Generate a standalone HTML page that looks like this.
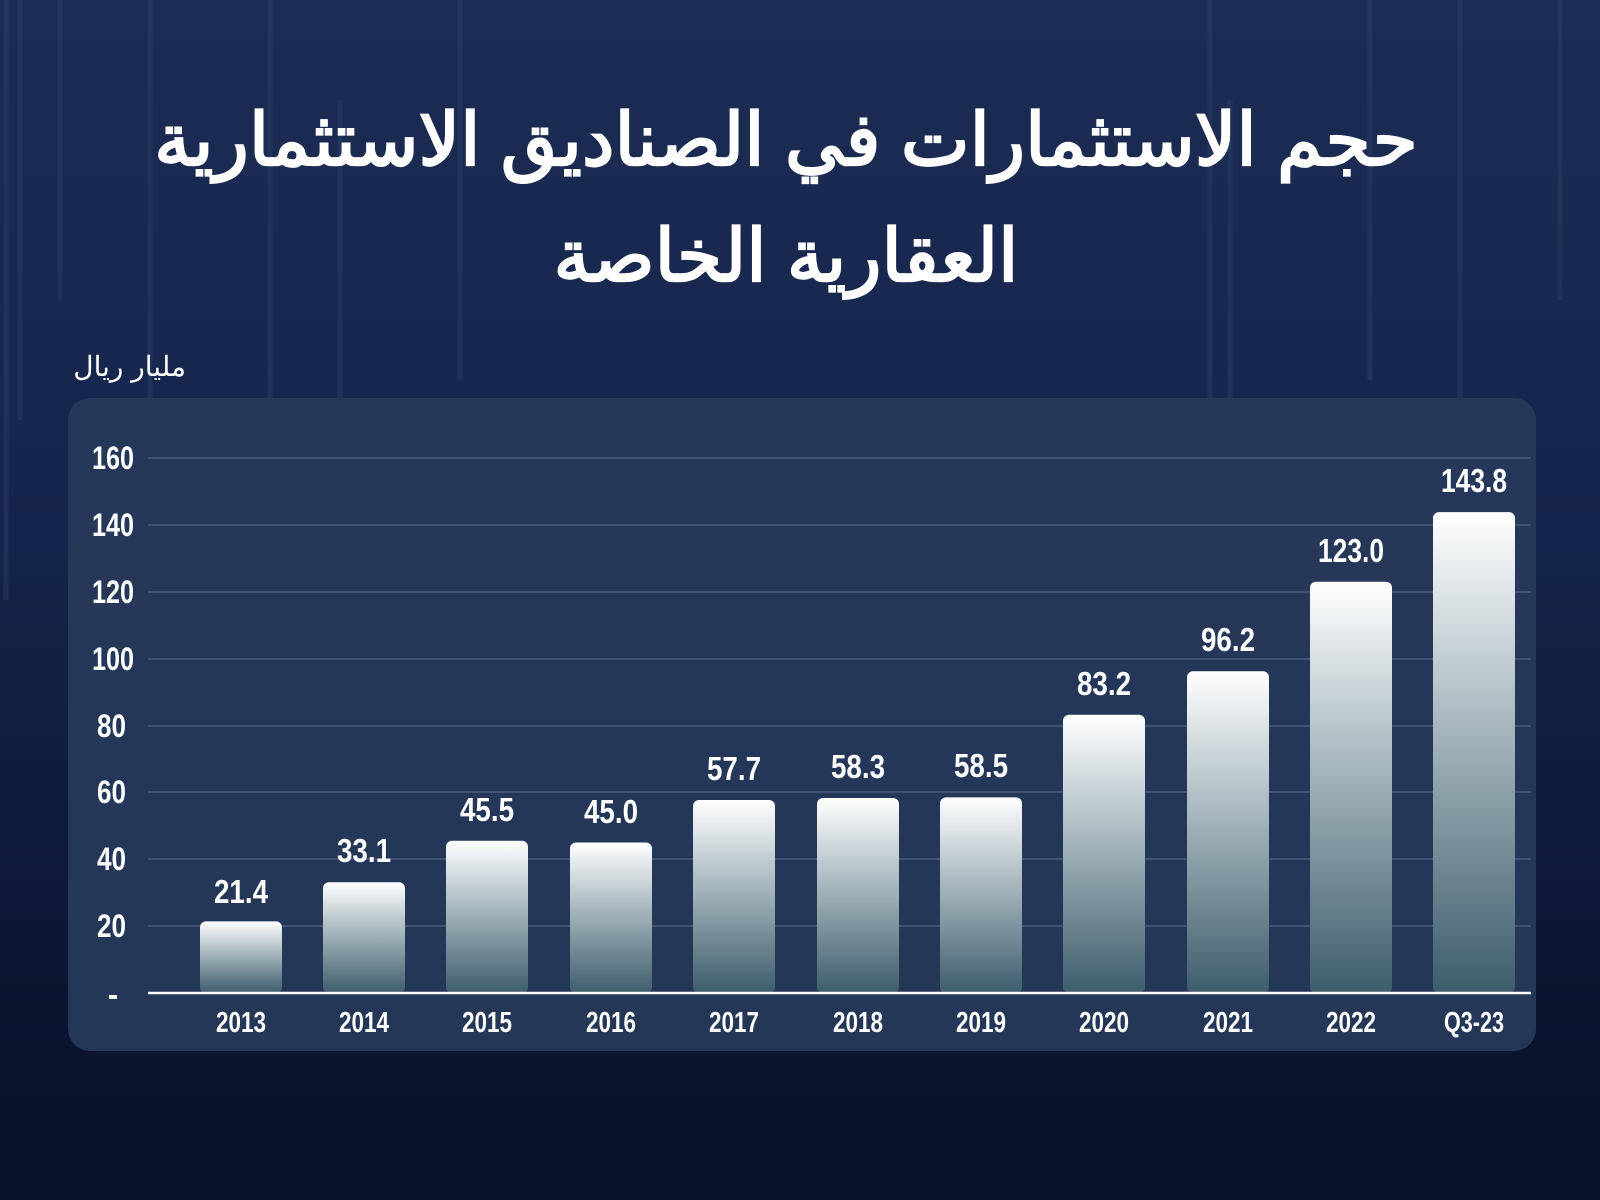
<!DOCTYPE html>
<html><head><meta charset="utf-8"><style>
html,body{margin:0;padding:0;background:#08112a;}
body{width:1600px;height:1200px;overflow:hidden;background:linear-gradient(180deg,#1c2c52 0%,#15244a 45%,#0b1632 80%,#08112a 100%);}
</style></head><body>
<svg width="1600" height="1200" viewBox="0 0 1600 1200" xmlns="http://www.w3.org/2000/svg" style="display:block">
<defs>
<linearGradient id="bar" x1="0" y1="0" x2="0" y2="1">
<stop offset="0" stop-color="#ffffff"/>
<stop offset="0.35" stop-color="#b9c6cc"/>
<stop offset="1" stop-color="#3e5d6c"/>
</linearGradient>
</defs>
<g stroke="#3a5a8a" stroke-width="5" opacity="0.22">
<line x1="20" y1="0" x2="20" y2="420"/><line x1="60" y1="0" x2="60" y2="300"/><line x1="150" y1="0" x2="150" y2="460"/>
<line x1="270" y1="0" x2="270" y2="440"/><line x1="340" y1="100" x2="340" y2="560"/><line x1="460" y1="0" x2="460" y2="380"/>
<line x1="1210" y1="0" x2="1210" y2="420"/><line x1="1230" y1="100" x2="1230" y2="510"/><line x1="1370" y1="0" x2="1370" y2="380"/>
<line x1="1460" y1="0" x2="1460" y2="430"/><line x1="1560" y1="0" x2="1560" y2="300"/><line x1="6" y1="0" x2="6" y2="600"/>
</g>
<text x="786" y="165" text-anchor="middle" font-family="'Liberation Sans','Noto Sans CJK SC',sans-serif" font-weight="bold" font-size="73" fill="#fff">حجم الاستثمارات في الصناديق الاستثمارية</text>
<text x="786" y="281" text-anchor="middle" font-family="'Liberation Sans','Noto Sans CJK SC',sans-serif" font-weight="bold" font-size="73" fill="#fff">العقارية الخاصة</text>
<text x="186" y="376" text-anchor="end" font-family="'Liberation Sans',sans-serif" font-size="28" fill="#fff">مليار ريال</text>
<rect x="68" y="398" width="1468" height="653" rx="22" fill="#27395a" opacity="0.95"/>
<g stroke="#4a5d7c" stroke-width="1.5">
<line x1="148" y1="458" x2="1531" y2="458"/><line x1="148" y1="525" x2="1531" y2="525"/>
<line x1="148" y1="592" x2="1531" y2="592"/><line x1="148" y1="659" x2="1531" y2="659"/>
<line x1="148" y1="726" x2="1531" y2="726"/><line x1="148" y1="792" x2="1531" y2="792"/>
<line x1="148" y1="859" x2="1531" y2="859"/><line x1="148" y1="926" x2="1531" y2="926"/>
</g>
<g font-family="'Liberation Sans',sans-serif" font-weight="bold" font-size="32" fill="#fff">
<text x="92" y="469" textLength="42" lengthAdjust="spacingAndGlyphs">160</text><text x="92" y="536" textLength="42" lengthAdjust="spacingAndGlyphs">140</text><text x="92" y="603" textLength="42" lengthAdjust="spacingAndGlyphs">120</text><text x="92" y="670" textLength="42" lengthAdjust="spacingAndGlyphs">100</text>
<text x="97" y="737" textLength="29" lengthAdjust="spacingAndGlyphs">80</text><text x="97" y="803" textLength="29" lengthAdjust="spacingAndGlyphs">60</text><text x="97" y="870" textLength="29" lengthAdjust="spacingAndGlyphs">40</text><text x="97" y="937" textLength="29" lengthAdjust="spacingAndGlyphs">20</text>
<rect x="109" y="995" width="8" height="4"/>
</g>
<g fill="url(#bar)">
<rect x="200" y="921.4" width="82" height="71.6" rx="6"/>
<rect x="323" y="882.3" width="82" height="110.7" rx="6"/>
<rect x="446" y="840.8" width="82" height="152.2" rx="6"/>
<rect x="570" y="842.5" width="82" height="150.5" rx="6"/>
<rect x="693" y="800" width="82" height="193" rx="6"/>
<rect x="817" y="798" width="82" height="195" rx="6"/>
<rect x="940" y="797.4" width="82" height="195.6" rx="6"/>
<rect x="1063" y="714.8" width="82" height="278.2" rx="6"/>
<rect x="1187" y="671.3" width="82" height="321.7" rx="6"/>
<rect x="1310" y="581.7" width="82" height="411.3" rx="6"/>
<rect x="1433" y="512.1" width="82" height="480.9" rx="6"/>
</g>
<line x1="148" y1="993" x2="1531" y2="993" stroke="#fff" stroke-width="2.5"/>
<g font-family="'Liberation Sans',sans-serif" font-weight="bold" font-size="33" fill="#fff" text-anchor="middle">
<text x="241" y="903" textLength="54" lengthAdjust="spacingAndGlyphs">21.4</text><text x="364" y="862" textLength="54" lengthAdjust="spacingAndGlyphs">33.1</text><text x="487" y="821" textLength="54" lengthAdjust="spacingAndGlyphs">45.5</text><text x="611" y="823" textLength="54" lengthAdjust="spacingAndGlyphs">45.0</text>
<text x="734" y="780" textLength="54" lengthAdjust="spacingAndGlyphs">57.7</text><text x="858" y="778" textLength="54" lengthAdjust="spacingAndGlyphs">58.3</text><text x="981" y="777" textLength="54" lengthAdjust="spacingAndGlyphs">58.5</text><text x="1104" y="695" textLength="54" lengthAdjust="spacingAndGlyphs">83.2</text>
<text x="1228" y="651" textLength="54" lengthAdjust="spacingAndGlyphs">96.2</text><text x="1351" y="562" textLength="66" lengthAdjust="spacingAndGlyphs">123.0</text><text x="1474" y="492" textLength="66" lengthAdjust="spacingAndGlyphs">143.8</text>
</g>
<g font-family="'Liberation Sans',sans-serif" font-weight="bold" font-size="29" fill="#fff" text-anchor="middle">
<text x="241" y="1032" textLength="50" lengthAdjust="spacingAndGlyphs">2013</text><text x="364" y="1032" textLength="50" lengthAdjust="spacingAndGlyphs">2014</text><text x="487" y="1032" textLength="50" lengthAdjust="spacingAndGlyphs">2015</text><text x="611" y="1032" textLength="50" lengthAdjust="spacingAndGlyphs">2016</text>
<text x="734" y="1032" textLength="50" lengthAdjust="spacingAndGlyphs">2017</text><text x="858" y="1032" textLength="50" lengthAdjust="spacingAndGlyphs">2018</text><text x="981" y="1032" textLength="50" lengthAdjust="spacingAndGlyphs">2019</text><text x="1104" y="1032" textLength="50" lengthAdjust="spacingAndGlyphs">2020</text>
<text x="1228" y="1032" textLength="50" lengthAdjust="spacingAndGlyphs">2021</text><text x="1351" y="1032" textLength="50" lengthAdjust="spacingAndGlyphs">2022</text><text x="1474" y="1032" textLength="60" lengthAdjust="spacingAndGlyphs">Q3-23</text>
</g>
</svg>
</body></html>
